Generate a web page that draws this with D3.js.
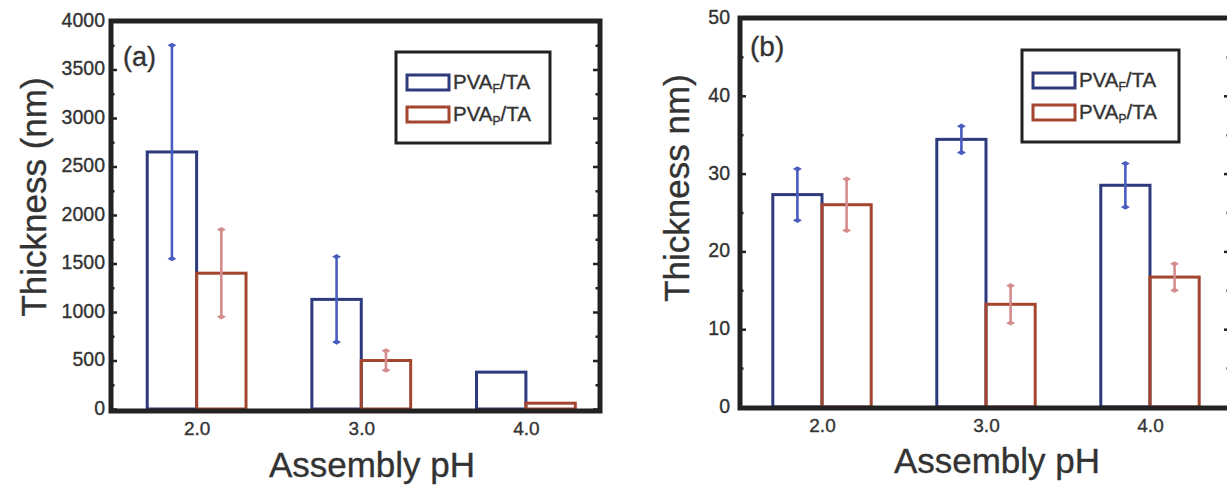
<!DOCTYPE html>
<html>
<head>
<meta charset="utf-8">
<script src="https://cdn.jsdelivr.net/npm/d3@7/dist/d3.min.js"></script>
<style>
  html, body { margin: 0; padding: 0; background: #fff; }
  svg { display: block; }
  text { font-family: "Liberation Sans", Arial, Helvetica, sans-serif; fill: #333; stroke: #333; stroke-width: 0.35px; }
</style>
</head>
<body>
<svg id="chart" width="1227" height="486"></svg>
<script>
// ---------------- DATA ----------------
const phValues = [2, 3, 4];
const phLabels = ["2.0", "3.0", "4.0"];
const seriesMain = ["PVA", "PVA"];
const seriesSub = ["F", "P"];
const seriesTail = ["/TA", "/TA"];

// panel (a)
const aTicks = [0, 500, 1000, 1500, 2000, 2500, 3000, 3500, 4000];
const aMinor = [250, 750, 1250, 1750, 2250, 2750, 3250, 3750];
const aF = [2650, 1130, 380];
const aFerr = [1100, 440, null];
const aP = [1400, 500, 60];
const aPerr = [450, 100, null];

// panel (b)
const bTicks = [0, 10, 20, 30, 40, 50];
const bMinor = [5, 15, 25, 35, 45];
const bF = [27.3, 34.4, 28.5];
const bFerr = [3.3, 1.7, 2.8];
const bP = [26.0, 13.2, 16.7];
const bPerr = [3.3, 2.4, 1.7];

// ---------------- STYLE ----------------
const C = {
  fBar: "#2d3a7c", fErr: "#4a5cc0",
  pBar: "#a3452f", pErr: "#d48c8c",
  axis: "#222"
};
const svg = d3.select("#chart");

function panel(cfg) {
  const g = svg.append("g");
  const x = d3.scaleLinear().domain(cfg.xDomain).range([cfg.left, cfg.right]);
  const y = d3.scaleLinear().domain(cfg.yDomain).range([cfg.bottom, cfg.top]);
  const bw = x(2.3) - x(2);

  const series = [
    { vals: cfg.F, errs: cfg.Ferr, bar: C.fBar, err: C.fErr, off: -1 },
    { vals: cfg.P, errs: cfg.Perr, bar: C.pBar, err: C.pErr, off: 0 }
  ];

  series.forEach(s => {
    g.selectAll(null).data(phValues.map((p, i) => ({ p, v: s.vals[i], e: s.errs[i] })))
      .enter().append("rect")
      .attr("x", d => x(d.p) + s.off * bw)
      .attr("y", d => y(d.v))
      .attr("width", bw)
      .attr("height", d => y(0) - y(d.v))
      .attr("fill", "none")
      .attr("stroke", s.bar)
      .attr("stroke-width", 3);
  });
  series.forEach(s => {
    const eg = g.selectAll(null).data(phValues.map((p, i) => ({ p, v: s.vals[i], e: s.errs[i] })).filter(d => d.e != null))
      .enter().append("g")
      .attr("transform", d => `translate(${x(d.p) + s.off * bw + bw / 2},0)`);
    eg.append("line")
      .attr("y1", d => y(d.v + d.e)).attr("y2", d => y(d.v - d.e))
      .attr("stroke", s.err).attr("stroke-width", 2.6);
    ["+", "-"].forEach(sign => {
      eg.append("path")
        .attr("transform", d => `translate(0,${y(sign === "+" ? d.v + d.e : d.v - d.e)})`)
        .attr("d", "M-4.5,0 L0,-2.6 L4.5,0 L0,2.6 Z")
        .attr("fill", s.err);
    });
  });

  // y axes (left, inward ticks)
  const yl = g.append("g").attr("transform", `translate(${cfg.left},0)`)
    .call(d3.axisLeft(y).tickValues(cfg.ticks).tickFormat(d3.format("d")).tickSize(-6).tickPadding(cfg.pad));
  yl.select(".domain").remove();
  yl.selectAll(".tick line").attr("stroke", C.axis).attr("stroke-width", 2.5);
  yl.selectAll(".tick text").style("font-size", "19.5px").attr("fill", "#333").attr("dy", "0.28em");
  const ylm = g.append("g").attr("transform", `translate(${cfg.left},0)`)
    .call(d3.axisLeft(y).tickValues(cfg.minor).tickFormat("").tickSize(-3.5));
  ylm.select(".domain").remove();
  ylm.selectAll(".tick line").attr("stroke", C.axis).attr("stroke-width", 2.5);

  // right axis ticks
  const yr = g.append("g").attr("transform", `translate(${cfg.right},0)`)
    .call(d3.axisRight(y).tickValues(cfg.ticks).tickFormat("").tickSize(-7));
  yr.select(".domain").remove();
  yr.selectAll(".tick line").attr("stroke", C.axis).attr("stroke-width", 2.5);
  const yrm = g.append("g").attr("transform", `translate(${cfg.right},0)`)
    .call(d3.axisRight(y).tickValues(cfg.minor).tickFormat("").tickSize(-4.5));
  yrm.select(".domain").remove();
  yrm.selectAll(".tick line").attr("stroke", C.axis).attr("stroke-width", 2.5);

  // x labels
  const xa = g.append("g").attr("transform", `translate(0,${cfg.bottom})`)
    .call(d3.axisBottom(x).tickValues(phValues).tickFormat((d, i) => phLabels[i]).tickSize(0).tickPadding(cfg.xpad));
  xa.select(".domain").remove();
  xa.selectAll(".tick text").style("font-size", "19px").attr("fill", "#333");

  // frame
  g.append("rect")
    .attr("x", cfg.left).attr("y", cfg.top)
    .attr("width", cfg.right - cfg.left).attr("height", cfg.frameBottom - cfg.top)
    .attr("fill", "none").attr("stroke", C.axis).attr("stroke-width", 5);

  // panel label
  g.append("text").attr("x", cfg.labX).attr("y", cfg.labY)
    .style("font-size", cfg.labSize + "px").attr("fill", "#333").text(cfg.label);

  // axis titles
  g.append("text")
    .attr("transform", `translate(${cfg.ytX},${cfg.ytY}) rotate(-90)`)
    .attr("text-anchor", "middle").style("font-size", "35px").attr("fill", "#3a3a3a")
    .text(cfg.yTitle);
  g.append("text").attr("x", cfg.xtX).attr("y", cfg.xtY)
    .attr("text-anchor", "middle").style("font-size", "35px").attr("fill", "#3a3a3a")
    .text("Assembly pH");

  // legend
  const L = cfg.legend;
  g.append("rect").attr("x", L.x).attr("y", L.y).attr("width", L.w).attr("height", L.h)
    .attr("fill", "#fff").attr("stroke", C.axis).attr("stroke-width", 3);
  [C.fBar, C.pBar].forEach((col, i) => {
    const yy = L.y + 23 + i * 32;
    g.append("rect").attr("x", L.x + 11).attr("y", yy).attr("width", 42).attr("height", 15)
      .attr("fill", "none").attr("stroke", col).attr("stroke-width", 3);
    const t = g.append("text").attr("x", L.x + 57).attr("y", yy + 14).style("font-size", "20.5px").attr("fill", "#333");
    t.append("tspan").text(seriesMain[i]);
    t.append("tspan").attr("dy", 4).style("font-size", "12px").text(seriesSub[i]);
    t.append("tspan").attr("dy", -4).text(seriesTail[i]);
  });
}

panel({
  left: 111, right: 600, top: 21, bottom: 409, frameBottom: 411,
  xDomain: [1.48, 4.45], yDomain: [0, 4000],
  ticks: aTicks, minor: aMinor, pad: 6, xpad: 13,
  F: aF, Ferr: aFerr, P: aP, Perr: aPerr,
  label: "(a)", labX: 123, labY: 66, labSize: 27,
  yTitle: "Thickness (nm)", ytX: 46, ytY: 197,
  xtX: 372, xtY: 477,
  legend: { x: 396, y: 52, w: 154, h: 91 }
});

panel({
  left: 740, right: 1231, top: 18, bottom: 407, frameBottom: 408,
  xDomain: [1.5, 4.494], yDomain: [0, 50],
  ticks: bTicks, minor: bMinor, pad: 10, xpad: 12,
  F: bF, Ferr: bFerr, P: bP, Perr: bPerr,
  label: "(b)", labX: 750, labY: 56, labSize: 28,
  yTitle: "Thickness nm)", ytX: 689, ytY: 188,
  xtX: 997, xtY: 473,
  legend: { x: 1022, y: 50, w: 157, h: 92 }
});
</script>
</body>
</html>
